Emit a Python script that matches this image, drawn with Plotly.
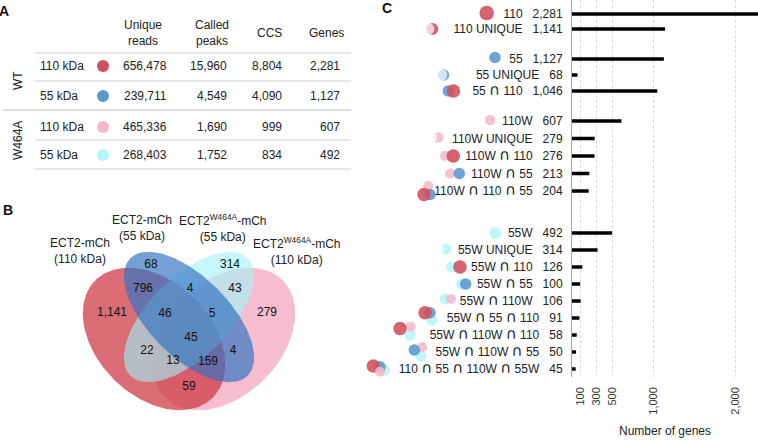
import numpy as np
import plotly.graph_objects as go

W, H = 758, 441
FONT = "Liberation Sans, Arial, Helvetica, sans-serif"
TXT = "#222222"

RED, BLUE, PINK, CYAN = "#cf4f5c", "#5a96d2", "#f5b9c8", "#b4f5fa"

# ---- panel A: mapping summary table
col_headers = ["Unique<br>reads", "Called<br>peaks", "CCS", "Genes"]
group_names = ["WT", "W464A"]
row_names = ["110 kDa", "55 kDa", "110 kDa", "55 kDa"]
unique_reads = [656478, 239711, 465336, 268403]
called_peaks = [15960, 4549, 1690, 1752]
ccs = [8804, 4090, 999, 834]
genes = [2281, 1127, 607, 492]

# ---- panel B: four-way venn
venn_names = ["ECT2-mCh<br>(110 kDa)", "ECT2-mCh<br>(55 kDa)",
              "ECT2<sup>W464A</sup>-mCh<br>(55 kDa)", "ECT2<sup>W464A</sup>-mCh<br>(110 kDa)"]
venn_counts = [68, 314, 796, 4, 43, 1141, 46, 5, 279, 45, 22, 4, 13, 159, 59]

# ---- panel C: gene counts per set
set_labels = ["110", "110 UNIQUE",
              "55", "55 UNIQUE", "55 ∩ 110",
              "110W", "110W UNIQUE", "110W ∩ 110", "110W ∩ 55", "110W ∩ 110 ∩ 55",
              "55W", "55W UNIQUE", "55W ∩ 110", "55W ∩ 55", "55W ∩ 110W",
              "55W ∩ 55 ∩ 110", "55W ∩ 110W ∩ 110", "55W ∩ 110W ∩ 55",
              "110 ∩ 55 ∩ 110W ∩ 55W"]
set_genes = [2281, 1141, 1127, 68, 1046, 607, 279, 276, 213, 204,
             492, 314, 126, 100, 106, 91, 58, 50, 45]
set_group = [0, 0, 1, 1, 1, 2, 2, 2, 2, 2, 3, 3, 3, 3, 3, 3, 3, 3, 3]

# layout helpers (pixel space)
group_start = [14, 59, 121, 233]
group_pitch = [15, 16, 17.5, 17]
row_y, seen = [], {}
for g in set_group:
    k = seen.get(g, 0)
    row_y.append(group_start[g] + k * group_pitch[g])
    seen[g] = k + 1

fig = go.Figure()

# ================= panel B ellipses
def ellipse(cx, cy, a, b, ang):
    t = np.linspace(0, 2 * np.pi, 200)
    c, s = np.cos(np.radians(ang)), np.sin(np.radians(ang))
    x = cx + a * np.cos(t) * c - b * np.sin(t) * s
    y = cy + a * np.cos(t) * s + b * np.sin(t) * c
    return x, y

ell = [  # pink, red, cyan, blue (drawing order)
    (224, 339, 83, 57, 135, "rgba(242,172,192,0.8)"),
    (154, 339, 83, 57, 45, "rgba(205,60,72,0.75)"),
    (189, 317, 83, 40, 135, "rgba(160,243,248,0.6)"),
    (189, 317, 83, 40, 45, "rgba(50,115,195,0.68)"),
]
for cx, cy, a, b, ang, col in ell:
    ex, ey = ellipse(cx, cy, a, b, ang)
    fig.add_trace(go.Scatter(x=ex, y=ey, mode="lines", fill="toself", fillcolor=col,
                             line=dict(width=0), hoverinfo="skip", showlegend=False))

venn_pos = [(151, 265), (230, 265), (143, 289), (190, 289), (235, 289),
            (112, 313), (165, 314), (212, 314), (267, 313), (191, 338),
            (147, 351), (233, 351), (173, 361), (208, 362), (189, 387)]
fig.add_trace(go.Scatter(x=[p[0] for p in venn_pos], y=[p[1] for p in venn_pos],
                         mode="text", text=[f"{v:,}" for v in venn_counts],
                         textfont=dict(family=FONT, size=12, color="#111"),
                         hoverinfo="skip", showlegend=False))

venn_label_pos = [(80, 251), (142, 228), (223, 228), (297, 251)]
for (lx, ly), name in zip(venn_label_pos, venn_names):
    fig.add_annotation(x=lx, y=ly, text=name, showarrow=False, xref="x", yref="y",
                       font=dict(family=FONT, size=12, color=TXT), align="center")

# ================= panel A table
t_rows_y = [66, 96, 127, 155]
t_col_x = [169, 229, 284, 342]
t_head_x = [143, 212, 269, 326]
for hx, h in zip(t_head_x, col_headers):
    fig.add_annotation(x=hx, y=33, text=h, showarrow=False, xref="x", yref="y",
                       font=dict(family=FONT, size=12, color=TXT), align="center")
for i, ry in enumerate(t_rows_y):
    fig.add_annotation(x=38, y=ry, text=row_names[i], showarrow=False, xref="x", yref="y",
                       xanchor="left", font=dict(family=FONT, size=12, color=TXT))
    vals = [unique_reads[i], called_peaks[i], ccs[i], genes[i]]
    for cx, v in zip(t_col_x, vals):
        fig.add_annotation(x=cx, y=ry, text=f"{v:,}", showarrow=False, xref="x", yref="y",
                           xanchor="right", font=dict(family=FONT, size=12, color=TXT))
fig.add_trace(go.Scatter(x=[103] * 4, y=t_rows_y, mode="markers",
                         marker=dict(size=12, color=[RED, BLUE, PINK, CYAN]),
                         hoverinfo="skip", showlegend=False))
for gy, gname in zip([81, 141], group_names):
    fig.add_annotation(x=18, y=gy, text=gname, textangle=-90, showarrow=False,
                       xref="x", yref="y", font=dict(family=FONT, size=12, color=TXT))
for ly in [53, 81, 140, 169]:
    fig.add_shape(type="line", x0=35, x1=351, y0=ly, y1=ly, xref="x", yref="y",
                  line=dict(color="#cfcfcf", width=1))
fig.add_shape(type="line", x0=3, x1=351, y0=110, y1=110, xref="x", yref="y",
              line=dict(color="#dcdcdc", width=2))

# panel letters
for lx, ly, letter in [(4, 11, "A"), (8, 210, "B"), (387, 8, "C")]:
    fig.add_annotation(x=lx, y=ly, text=f"<b>{letter}</b>", showarrow=False, xref="x", yref="y",
                       font=dict(family=FONT, size=14, color="#111"))

# ================= panel C glyphs
cmap = {"R": RED, "B": BLUE, "P": PINK, "C": CYAN}
smap = {"R": 13.5, "B": 11.5, "P": 10, "C": 11}
# per row: (set, x, dy[, bite_dx, size])
glyphs = [
    [("R", 486.7, -1, None, 14.5)],
    [("R", 432.3, 0, -4.5, 12)],
    [("B", 495, -1.5, None, 11.5)],
    [("B", 443.5, 0, -2.5, 11.5)],
    [("B", 448.3, 0), ("R", 453.5, 0)],
    [("P", 490, -1, None, 10.5)],
    [("P", 438.3, -1, -7, 10.5)],
    [("P", 445, 0), ("R", 453.3, 0)],
    [("P", 450, 0), ("B", 459.3, 0)],
    [("P", 428.3, -5), ("B", 430, 3.5), ("R", 424, 3.5)],
    [("C", 495.3, 0, None, 12)],
    [("C", 445.5, -1, -7.5, 11)],
    [("C", 451.7, 0), ("R", 460, 0)],
    [("C", 461.7, 0), ("B", 465.7, 0)],
    [("C", 445, -2), ("P", 451, -2)],
    [("C", 431.7, 2), ("B", 430, -5.3), ("R", 425, -5.3)],
    [("C", 410, 0), ("P", 410.7, -8.4), ("R", 400, -6.4)],
    [("C", 421, 4), ("P", 422.3, -4.7), ("B", 414.3, -2)],
    [("C", 384.3, 1), ("B", 380, -2.3), ("R", 373.3, -3), ("P", 380, 2.7)],
]
gx, gy, gc, gs = [], [], [], []
bx, by, bs = [], [], []
for ry, row in zip(row_y, glyphs):
    for g in row:
        key, x, dy = g[0], g[1], g[2]
        size = g[4] if len(g) > 4 else smap[key]
        gx.append(x); gy.append(ry + dy); gc.append(cmap[key]); gs.append(size)
        if len(g) > 3 and g[3] is not None:
            bx.append(x + g[3]); by.append(ry + dy); bs.append(size + 1)
fig.add_trace(go.Scatter(x=gx, y=gy, mode="markers",
                         marker=dict(size=gs, color=gc, opacity=0.88, line=dict(width=0)),
                         hoverinfo="skip", showlegend=False))
fig.add_trace(go.Scatter(x=bx, y=by, mode="markers",
                         marker=dict(size=bs, color="white", line=dict(width=0)),
                         hoverinfo="skip", showlegend=False))

# ================= panel C bars
fig.add_trace(go.Bar(x=set_genes, y=row_y, orientation="h", width=3.5,
                     marker=dict(color="black", line=dict(width=0)),
                     xaxis="x2", yaxis="y2", hoverinfo="skip", showlegend=False))

nb = "\u00a0"
cap = '<span style="font-family:DejaVu Sans;font-size:15px">∩</span>'
tick_text = [f"{l.replace('∩', cap)}{nb*3}{v:,}" for l, v in zip(set_labels, set_genes)]

fig.update_layout(
    width=W, height=H, margin=dict(l=0, r=0, t=0, b=0),
    paper_bgcolor="white", plot_bgcolor="rgba(0,0,0,0)",
    font=dict(family=FONT, size=12, color=TXT),
    xaxis=dict(domain=[0, 1], range=[0, W], visible=False, fixedrange=True),
    yaxis=dict(domain=[0, 1], range=[H, 0], visible=False, fixedrange=True),
    xaxis2=dict(domain=[572 / W, 1], range=[0, 2282], anchor="y2",
                tickvals=[100, 300, 500, 1000, 2000], tickformat=",d", tickangle=-90,
                showgrid=True, gridcolor="#dadada", griddash="3px,2px", gridwidth=1,
                zeroline=False, showline=False, ticks="", ticklabelstandoff=7,
                tickfont=dict(family=FONT, size=11, color="#333"),
                title=dict(text="Number of genes", standoff=12,
                           font=dict(family=FONT, size=12, color=TXT)),
                automargin=False),
    yaxis2=dict(domain=[(H - 377) / H, 1], range=[377, 0], anchor="x2",
                tickvals=row_y, ticktext=tick_text, showgrid=False, zeroline=False,
                showline=True, linecolor="#a8a8a8", linewidth=1, ticks="",
                ticklabelstandoff=6, tickfont=dict(family=FONT, size=12, color=TXT),
                automargin=False),
)

fig.write_html("out.html", config={"displayModeBar": False},
               post_script="document.body.style.margin='0';")
